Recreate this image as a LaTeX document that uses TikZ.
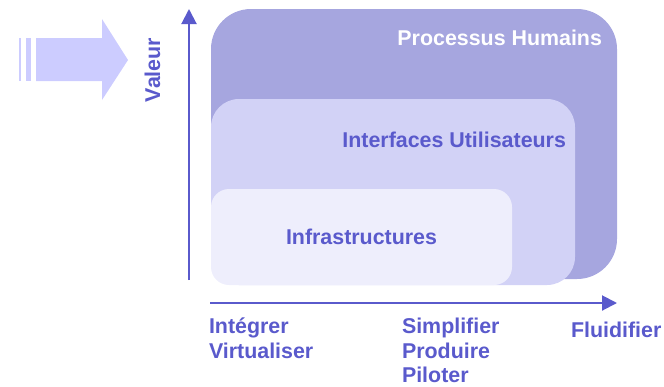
\documentclass[tikz,border=0pt]{standalone}
\usepackage{fontspec}
\setmainfont{Liberation Sans}
\usetikzlibrary{arrows.meta}
\definecolor{axisblue}{HTML}{5A5ACC}
\definecolor{outerc}{HTML}{A6A6DF}
\definecolor{midc}{HTML}{D2D2F6}
\definecolor{innerc}{HTML}{EEEEFC}
\definecolor{bigarrow}{HTML}{CCCCFF}
\tikzset{
  axis/.style={draw=axisblue, line width=2pt, -{Triangle[length=15pt,width=15pt]}},
  lbl/.style={font=\fontsize{21.4}{26}\selectfont\bfseries, text=axisblue, inner sep=0pt, outer sep=0pt},
  lblw/.style={lbl, text=white},
}
\begin{document}
\begin{tikzpicture}[x=1pt,y=-1pt]
\useasboundingbox (0,0) rectangle (664,386);
% big arrow
\fill[bigarrow] (36,38) -- (102,38) -- (102,19) -- (128,60) -- (102,100) -- (102,81) -- (36,81) -- cycle;
\fill[bigarrow] (19,38) rectangle (21,81);
\fill[bigarrow] (26,38) rectangle (31,81);
% layers
\fill[outerc, rounded corners=40pt] (211,9) rectangle (617,279);
\fill[midc, rounded corners=28pt] (211,99) rectangle (575,285);
\fill[innerc, rounded corners=18pt] (211,189) rectangle (512,285);
% axes
\coordinate (yb) at (189,280);
\coordinate (yt) at (189,9);
\coordinate (xl) at (210,303);
\coordinate (xr) at (617,303);
\draw[axis] (yb) -- (yt);
\draw[axis] (xl) -- (xr);
% labels
\node[lbl, rotate=90, anchor=base west] (valeur) at (160,102) {Valeur};
\node[lblw, anchor=base east] (proc) at (602,45) {Processus Humains};
\node[lbl, anchor=base east] (iface) at (566,147) {Interfaces Utilisateurs};
\node[lbl, anchor=base west] (infra) at (286,244) {Infrastructures};
\node[lbl, anchor=base west] (integ) at (209,333) {Intégrer};
\node[lbl, anchor=base west] (virt) at (209,358) {Virtualiser};
\node[lbl, anchor=base west] (simpl) at (402,333) {Simplifier};
\node[lbl, anchor=base west] (prod) at (402,358) {Produire};
\node[lbl, anchor=base west] (pilot) at (402,382) {Piloter};
\node[lbl, anchor=base west] (fluid) at (571,337) {Fluidifier};
\end{tikzpicture}
\end{document}
